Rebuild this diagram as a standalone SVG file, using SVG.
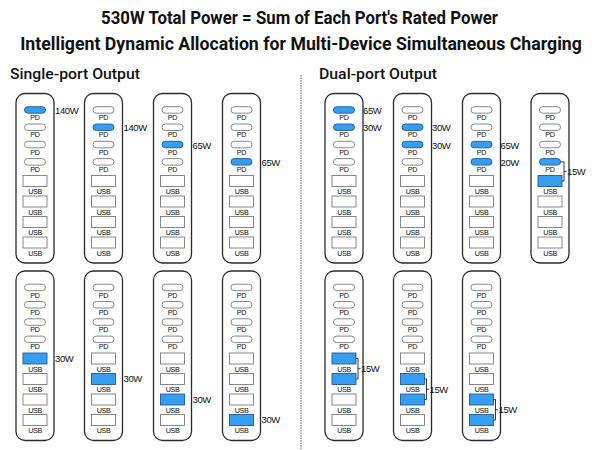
<svg xmlns="http://www.w3.org/2000/svg" width="600" height="450" viewBox="0 0 600 450">
<style>
.bg{fill:#fff}
.frame{fill:#fff;stroke:#2b2b2b;stroke-width:1.3}
.pc{fill:#fff;stroke:#7a7a7a;stroke-width:0.9}
.on{fill:#379df0;stroke:#1f5c96}
.pl{font-family:"Liberation Sans",Arial,sans-serif;font-size:7.2px;text-anchor:middle;fill:#111;letter-spacing:-0.35px}
.w{font-family:"Liberation Sans",Arial,sans-serif;font-size:9.5px;fill:#111;letter-spacing:-0.4px}
.t{font-family:Roboto,"Liberation Sans",sans-serif;font-weight:bold;font-size:18.5px;text-anchor:middle;fill:#111}
.h{font-family:Roboto,"Liberation Sans",sans-serif;font-weight:500;font-size:14px;fill:#111}
.br{fill:none;stroke:#222;stroke-width:0.9}
.sep{stroke:#999;stroke-width:1.5;stroke-dasharray:1.5 1}
</style>
<rect class="bg" width="600" height="450"/>
<g id="titles">
<text class="t" transform="translate(299.5,24) scale(0.82,1)" textLength="484" lengthAdjust="spacingAndGlyphs">530W Total Power = Sum of Each Port's Rated Power</text>
<text class="t" transform="translate(301,50) scale(0.82,1)" textLength="685" lengthAdjust="spacingAndGlyphs">Intelligent Dynamic Allocation for Multi-Device Simultaneous Charging</text>
<text class="h" x="10" y="79" textLength="130" lengthAdjust="spacingAndGlyphs">Single-port Output</text>
<text class="h" x="319" y="79" textLength="118" lengthAdjust="spacingAndGlyphs">Dual-port Output</text>
</g>
<line class="sep" x1="301" y1="75" x2="301" y2="450"/>

<!-- Single-port top row -->
<g id="s1" transform="translate(16,93.5)">
<rect class="frame" width="38" height="169.5" rx="9"/>
<rect class="pc on" x="8.5" y="13.2" width="21" height="6.5" rx="3.25"/>
<rect class="pc" x="8.5" y="30.5" width="21" height="6.5" rx="3.25"/>
<rect class="pc" x="8.5" y="47.8" width="21" height="6.5" rx="3.25"/>
<rect class="pc" x="8.5" y="65.1" width="21" height="6.5" rx="3.25"/>
<text class="pl" x="19" y="26.5">PD</text><text class="pl" x="19" y="43.8">PD</text><text class="pl" x="19" y="61.1">PD</text><text class="pl" x="19" y="78.4">PD</text>
<rect class="pc" x="7" y="82" width="24" height="11"/>
<rect class="pc" x="7" y="102.5" width="24" height="11"/>
<rect class="pc" x="7" y="123" width="24" height="11"/>
<rect class="pc" x="7" y="143.5" width="24" height="11"/>
<text class="pl" x="19" y="100.5">USB</text><text class="pl" x="19" y="121">USB</text><text class="pl" x="19" y="141.5">USB</text><text class="pl" x="19" y="162">USB</text>
<text class="w" x="39" y="20.5">140W</text>
</g>
<g id="s2" transform="translate(84.5,93.5)">
<rect class="frame" width="38" height="169.5" rx="9"/>
<rect class="pc" x="8.5" y="13.2" width="21" height="6.5" rx="3.25"/>
<rect class="pc on" x="8.5" y="30.5" width="21" height="6.5" rx="3.25"/>
<rect class="pc" x="8.5" y="47.8" width="21" height="6.5" rx="3.25"/>
<rect class="pc" x="8.5" y="65.1" width="21" height="6.5" rx="3.25"/>
<text class="pl" x="19" y="26.5">PD</text><text class="pl" x="19" y="43.8">PD</text><text class="pl" x="19" y="61.1">PD</text><text class="pl" x="19" y="78.4">PD</text>
<rect class="pc" x="7" y="82" width="24" height="11"/>
<rect class="pc" x="7" y="102.5" width="24" height="11"/>
<rect class="pc" x="7" y="123" width="24" height="11"/>
<rect class="pc" x="7" y="143.5" width="24" height="11"/>
<text class="pl" x="19" y="100.5">USB</text><text class="pl" x="19" y="121">USB</text><text class="pl" x="19" y="141.5">USB</text><text class="pl" x="19" y="162">USB</text>
<text class="w" x="39" y="37.8">140W</text>
</g>
<g id="s3" transform="translate(153.5,93.5)">
<rect class="frame" width="38" height="169.5" rx="9"/>
<rect class="pc" x="8.5" y="13.2" width="21" height="6.5" rx="3.25"/>
<rect class="pc" x="8.5" y="30.5" width="21" height="6.5" rx="3.25"/>
<rect class="pc on" x="8.5" y="47.8" width="21" height="6.5" rx="3.25"/>
<rect class="pc" x="8.5" y="65.1" width="21" height="6.5" rx="3.25"/>
<text class="pl" x="19" y="26.5">PD</text><text class="pl" x="19" y="43.8">PD</text><text class="pl" x="19" y="61.1">PD</text><text class="pl" x="19" y="78.4">PD</text>
<rect class="pc" x="7" y="82" width="24" height="11"/>
<rect class="pc" x="7" y="102.5" width="24" height="11"/>
<rect class="pc" x="7" y="123" width="24" height="11"/>
<rect class="pc" x="7" y="143.5" width="24" height="11"/>
<text class="pl" x="19" y="100.5">USB</text><text class="pl" x="19" y="121">USB</text><text class="pl" x="19" y="141.5">USB</text><text class="pl" x="19" y="162">USB</text>
<text class="w" x="39" y="55">65W</text>
</g>
<g id="s4" transform="translate(222.5,93.5)">
<rect class="frame" width="38" height="169.5" rx="9"/>
<rect class="pc" x="8.5" y="13.2" width="21" height="6.5" rx="3.25"/>
<rect class="pc" x="8.5" y="30.5" width="21" height="6.5" rx="3.25"/>
<rect class="pc" x="8.5" y="47.8" width="21" height="6.5" rx="3.25"/>
<rect class="pc on" x="8.5" y="65.1" width="21" height="6.5" rx="3.25"/>
<text class="pl" x="19" y="26.5">PD</text><text class="pl" x="19" y="43.8">PD</text><text class="pl" x="19" y="61.1">PD</text><text class="pl" x="19" y="78.4">PD</text>
<rect class="pc" x="7" y="82" width="24" height="11"/>
<rect class="pc" x="7" y="102.5" width="24" height="11"/>
<rect class="pc" x="7" y="123" width="24" height="11"/>
<rect class="pc" x="7" y="143.5" width="24" height="11"/>
<text class="pl" x="19" y="100.5">USB</text><text class="pl" x="19" y="121">USB</text><text class="pl" x="19" y="141.5">USB</text><text class="pl" x="19" y="162">USB</text>
<text class="w" x="39" y="72.3">65W</text>
</g>

<!-- Single-port bottom row -->
<g id="s5" transform="translate(16,271)">
<rect class="frame" width="38" height="169.5" rx="9"/>
<rect class="pc" x="8.5" y="13.2" width="21" height="6.5" rx="3.25"/>
<rect class="pc" x="8.5" y="30.5" width="21" height="6.5" rx="3.25"/>
<rect class="pc" x="8.5" y="47.8" width="21" height="6.5" rx="3.25"/>
<rect class="pc" x="8.5" y="65.1" width="21" height="6.5" rx="3.25"/>
<text class="pl" x="19" y="26.5">PD</text><text class="pl" x="19" y="43.8">PD</text><text class="pl" x="19" y="61.1">PD</text><text class="pl" x="19" y="78.4">PD</text>
<rect class="pc on" x="7" y="82" width="24" height="11"/>
<rect class="pc" x="7" y="102.5" width="24" height="11"/>
<rect class="pc" x="7" y="123" width="24" height="11"/>
<rect class="pc" x="7" y="143.5" width="24" height="11"/>
<text class="pl" x="19" y="100.5">USB</text><text class="pl" x="19" y="121">USB</text><text class="pl" x="19" y="141.5">USB</text><text class="pl" x="19" y="162">USB</text>
<text class="w" x="39" y="90.5">30W</text>
</g>
<g id="s6" transform="translate(84.5,271)">
<rect class="frame" width="38" height="169.5" rx="9"/>
<rect class="pc" x="8.5" y="13.2" width="21" height="6.5" rx="3.25"/>
<rect class="pc" x="8.5" y="30.5" width="21" height="6.5" rx="3.25"/>
<rect class="pc" x="8.5" y="47.8" width="21" height="6.5" rx="3.25"/>
<rect class="pc" x="8.5" y="65.1" width="21" height="6.5" rx="3.25"/>
<text class="pl" x="19" y="26.5">PD</text><text class="pl" x="19" y="43.8">PD</text><text class="pl" x="19" y="61.1">PD</text><text class="pl" x="19" y="78.4">PD</text>
<rect class="pc" x="7" y="82" width="24" height="11"/>
<rect class="pc on" x="7" y="102.5" width="24" height="11"/>
<rect class="pc" x="7" y="123" width="24" height="11"/>
<rect class="pc" x="7" y="143.5" width="24" height="11"/>
<text class="pl" x="19" y="100.5">USB</text><text class="pl" x="19" y="121">USB</text><text class="pl" x="19" y="141.5">USB</text><text class="pl" x="19" y="162">USB</text>
<text class="w" x="39" y="111">30W</text>
</g>
<g id="s7" transform="translate(153.5,271)">
<rect class="frame" width="38" height="169.5" rx="9"/>
<rect class="pc" x="8.5" y="13.2" width="21" height="6.5" rx="3.25"/>
<rect class="pc" x="8.5" y="30.5" width="21" height="6.5" rx="3.25"/>
<rect class="pc" x="8.5" y="47.8" width="21" height="6.5" rx="3.25"/>
<rect class="pc" x="8.5" y="65.1" width="21" height="6.5" rx="3.25"/>
<text class="pl" x="19" y="26.5">PD</text><text class="pl" x="19" y="43.8">PD</text><text class="pl" x="19" y="61.1">PD</text><text class="pl" x="19" y="78.4">PD</text>
<rect class="pc" x="7" y="82" width="24" height="11"/>
<rect class="pc" x="7" y="102.5" width="24" height="11"/>
<rect class="pc on" x="7" y="123" width="24" height="11"/>
<rect class="pc" x="7" y="143.5" width="24" height="11"/>
<text class="pl" x="19" y="100.5">USB</text><text class="pl" x="19" y="121">USB</text><text class="pl" x="19" y="141.5">USB</text><text class="pl" x="19" y="162">USB</text>
<text class="w" x="39" y="131.5">30W</text>
</g>
<g id="s8" transform="translate(222.5,271)">
<rect class="frame" width="38" height="169.5" rx="9"/>
<rect class="pc" x="8.5" y="13.2" width="21" height="6.5" rx="3.25"/>
<rect class="pc" x="8.5" y="30.5" width="21" height="6.5" rx="3.25"/>
<rect class="pc" x="8.5" y="47.8" width="21" height="6.5" rx="3.25"/>
<rect class="pc" x="8.5" y="65.1" width="21" height="6.5" rx="3.25"/>
<text class="pl" x="19" y="26.5">PD</text><text class="pl" x="19" y="43.8">PD</text><text class="pl" x="19" y="61.1">PD</text><text class="pl" x="19" y="78.4">PD</text>
<rect class="pc" x="7" y="82" width="24" height="11"/>
<rect class="pc" x="7" y="102.5" width="24" height="11"/>
<rect class="pc" x="7" y="123" width="24" height="11"/>
<rect class="pc on" x="7" y="143.5" width="24" height="11"/>
<text class="pl" x="19" y="100.5">USB</text><text class="pl" x="19" y="121">USB</text><text class="pl" x="19" y="141.5">USB</text><text class="pl" x="19" y="162">USB</text>
<text class="w" x="39" y="152">30W</text>
</g>

<!-- Dual-port top row -->
<g id="d1" transform="translate(325,93.5)">
<rect class="frame" width="38" height="169.5" rx="9"/>
<rect class="pc on" x="8.5" y="13.2" width="21" height="6.5" rx="3.25"/>
<rect class="pc on" x="8.5" y="30.5" width="21" height="6.5" rx="3.25"/>
<rect class="pc" x="8.5" y="47.8" width="21" height="6.5" rx="3.25"/>
<rect class="pc" x="8.5" y="65.1" width="21" height="6.5" rx="3.25"/>
<text class="pl" x="19" y="26.5">PD</text><text class="pl" x="19" y="43.8">PD</text><text class="pl" x="19" y="61.1">PD</text><text class="pl" x="19" y="78.4">PD</text>
<rect class="pc" x="7" y="82" width="24" height="11"/>
<rect class="pc" x="7" y="102.5" width="24" height="11"/>
<rect class="pc" x="7" y="123" width="24" height="11"/>
<rect class="pc" x="7" y="143.5" width="24" height="11"/>
<text class="pl" x="19" y="100.5">USB</text><text class="pl" x="19" y="121">USB</text><text class="pl" x="19" y="141.5">USB</text><text class="pl" x="19" y="162">USB</text>
<text class="w" x="38" y="20.5">65W</text>
<text class="w" x="38" y="37.8">30W</text>
</g>
<g id="d2" transform="translate(393.5,93.5)">
<rect class="frame" width="38" height="169.5" rx="9"/>
<rect class="pc" x="8.5" y="13.2" width="21" height="6.5" rx="3.25"/>
<rect class="pc on" x="8.5" y="30.5" width="21" height="6.5" rx="3.25"/>
<rect class="pc on" x="8.5" y="47.8" width="21" height="6.5" rx="3.25"/>
<rect class="pc" x="8.5" y="65.1" width="21" height="6.5" rx="3.25"/>
<text class="pl" x="19" y="26.5">PD</text><text class="pl" x="19" y="43.8">PD</text><text class="pl" x="19" y="61.1">PD</text><text class="pl" x="19" y="78.4">PD</text>
<rect class="pc" x="7" y="82" width="24" height="11"/>
<rect class="pc" x="7" y="102.5" width="24" height="11"/>
<rect class="pc" x="7" y="123" width="24" height="11"/>
<rect class="pc" x="7" y="143.5" width="24" height="11"/>
<text class="pl" x="19" y="100.5">USB</text><text class="pl" x="19" y="121">USB</text><text class="pl" x="19" y="141.5">USB</text><text class="pl" x="19" y="162">USB</text>
<text class="w" x="38.5" y="37.8">30W</text>
<text class="w" x="38.5" y="55">30W</text>
</g>
<g id="d3" transform="translate(462.5,93.5)">
<rect class="frame" width="38" height="169.5" rx="9"/>
<rect class="pc" x="8.5" y="13.2" width="21" height="6.5" rx="3.25"/>
<rect class="pc" x="8.5" y="30.5" width="21" height="6.5" rx="3.25"/>
<rect class="pc on" x="8.5" y="47.8" width="21" height="6.5" rx="3.25"/>
<rect class="pc on" x="8.5" y="65.1" width="21" height="6.5" rx="3.25"/>
<text class="pl" x="19" y="26.5">PD</text><text class="pl" x="19" y="43.8">PD</text><text class="pl" x="19" y="61.1">PD</text><text class="pl" x="19" y="78.4">PD</text>
<rect class="pc" x="7" y="82" width="24" height="11"/>
<rect class="pc" x="7" y="102.5" width="24" height="11"/>
<rect class="pc" x="7" y="123" width="24" height="11"/>
<rect class="pc" x="7" y="143.5" width="24" height="11"/>
<text class="pl" x="19" y="100.5">USB</text><text class="pl" x="19" y="121">USB</text><text class="pl" x="19" y="141.5">USB</text><text class="pl" x="19" y="162">USB</text>
<text class="w" x="38" y="55">65W</text>
<text class="w" x="38" y="72.3">20W</text>
</g>
<g id="d4" transform="translate(531,93.5)">
<rect class="frame" width="38" height="169.5" rx="9"/>
<rect class="pc" x="8.5" y="13.2" width="21" height="6.5" rx="3.25"/>
<rect class="pc" x="8.5" y="30.5" width="21" height="6.5" rx="3.25"/>
<rect class="pc" x="8.5" y="47.8" width="21" height="6.5" rx="3.25"/>
<rect class="pc on" x="8.5" y="65.1" width="21" height="6.5" rx="3.25"/>
<text class="pl" x="19" y="26.5">PD</text><text class="pl" x="19" y="43.8">PD</text><text class="pl" x="19" y="61.1">PD</text><text class="pl" x="19" y="78.4">PD</text>
<rect class="pc on" x="7" y="82" width="24" height="11"/>
<rect class="pc" x="7" y="102.5" width="24" height="11"/>
<rect class="pc" x="7" y="123" width="24" height="11"/>
<rect class="pc" x="7" y="143.5" width="24" height="11"/>
<text class="pl" x="19" y="100.5">USB</text><text class="pl" x="19" y="121">USB</text><text class="pl" x="19" y="141.5">USB</text><text class="pl" x="19" y="162">USB</text>
</g>

<!-- Dual-port bottom row -->
<g id="d5" transform="translate(325,271)">
<rect class="frame" width="38" height="169.5" rx="9"/>
<rect class="pc" x="8.5" y="13.2" width="21" height="6.5" rx="3.25"/>
<rect class="pc" x="8.5" y="30.5" width="21" height="6.5" rx="3.25"/>
<rect class="pc" x="8.5" y="47.8" width="21" height="6.5" rx="3.25"/>
<rect class="pc" x="8.5" y="65.1" width="21" height="6.5" rx="3.25"/>
<text class="pl" x="19" y="26.5">PD</text><text class="pl" x="19" y="43.8">PD</text><text class="pl" x="19" y="61.1">PD</text><text class="pl" x="19" y="78.4">PD</text>
<rect class="pc on" x="7" y="82" width="24" height="11"/>
<rect class="pc on" x="7" y="102.5" width="24" height="11"/>
<rect class="pc" x="7" y="123" width="24" height="11"/>
<rect class="pc" x="7" y="143.5" width="24" height="11"/>
<text class="pl" x="19" y="100.5">USB</text><text class="pl" x="19" y="121">USB</text><text class="pl" x="19" y="141.5">USB</text><text class="pl" x="19" y="162">USB</text>
</g>
<g id="d6" transform="translate(393.5,271)">
<rect class="frame" width="38" height="169.5" rx="9"/>
<rect class="pc" x="8.5" y="13.2" width="21" height="6.5" rx="3.25"/>
<rect class="pc" x="8.5" y="30.5" width="21" height="6.5" rx="3.25"/>
<rect class="pc" x="8.5" y="47.8" width="21" height="6.5" rx="3.25"/>
<rect class="pc" x="8.5" y="65.1" width="21" height="6.5" rx="3.25"/>
<text class="pl" x="19" y="26.5">PD</text><text class="pl" x="19" y="43.8">PD</text><text class="pl" x="19" y="61.1">PD</text><text class="pl" x="19" y="78.4">PD</text>
<rect class="pc" x="7" y="82" width="24" height="11"/>
<rect class="pc on" x="7" y="102.5" width="24" height="11"/>
<rect class="pc on" x="7" y="123" width="24" height="11"/>
<rect class="pc" x="7" y="143.5" width="24" height="11"/>
<text class="pl" x="19" y="100.5">USB</text><text class="pl" x="19" y="121">USB</text><text class="pl" x="19" y="141.5">USB</text><text class="pl" x="19" y="162">USB</text>
</g>
<g id="d7" transform="translate(462.5,271)">
<rect class="frame" width="38" height="169.5" rx="9"/>
<rect class="pc" x="8.5" y="13.2" width="21" height="6.5" rx="3.25"/>
<rect class="pc" x="8.5" y="30.5" width="21" height="6.5" rx="3.25"/>
<rect class="pc" x="8.5" y="47.8" width="21" height="6.5" rx="3.25"/>
<rect class="pc" x="8.5" y="65.1" width="21" height="6.5" rx="3.25"/>
<text class="pl" x="19" y="26.5">PD</text><text class="pl" x="19" y="43.8">PD</text><text class="pl" x="19" y="61.1">PD</text><text class="pl" x="19" y="78.4">PD</text>
<rect class="pc" x="7" y="82" width="24" height="11"/>
<rect class="pc" x="7" y="102.5" width="24" height="11"/>
<rect class="pc on" x="7" y="123" width="24" height="11"/>
<rect class="pc on" x="7" y="143.5" width="24" height="11"/>
<text class="pl" x="19" y="100.5">USB</text><text class="pl" x="19" y="121">USB</text><text class="pl" x="19" y="141.5">USB</text><text class="pl" x="19" y="162">USB</text>
</g>

<g id="connectors">
<path class="br" d="M560.5,161.85 H564 V181 H562 M564,171.4 H566.5"/>
<text class="w" x="567" y="174.7">15W</text>
<path class="br" d="M356,358.5 H358 V379 H356 M358,368.75 H360.5"/>
<text class="w" x="361" y="372">15W</text>
<path class="br" d="M424.5,379 H426.5 V399.5 H424.5 M426.5,389.25 H429"/>
<text class="w" x="429.5" y="392.5">15W</text>
<path class="br" d="M493.5,399.5 H495.5 V420 H493.5 M495.5,409.75 H498"/>
<text class="w" x="498.5" y="413">15W</text>
</g>
</svg>
